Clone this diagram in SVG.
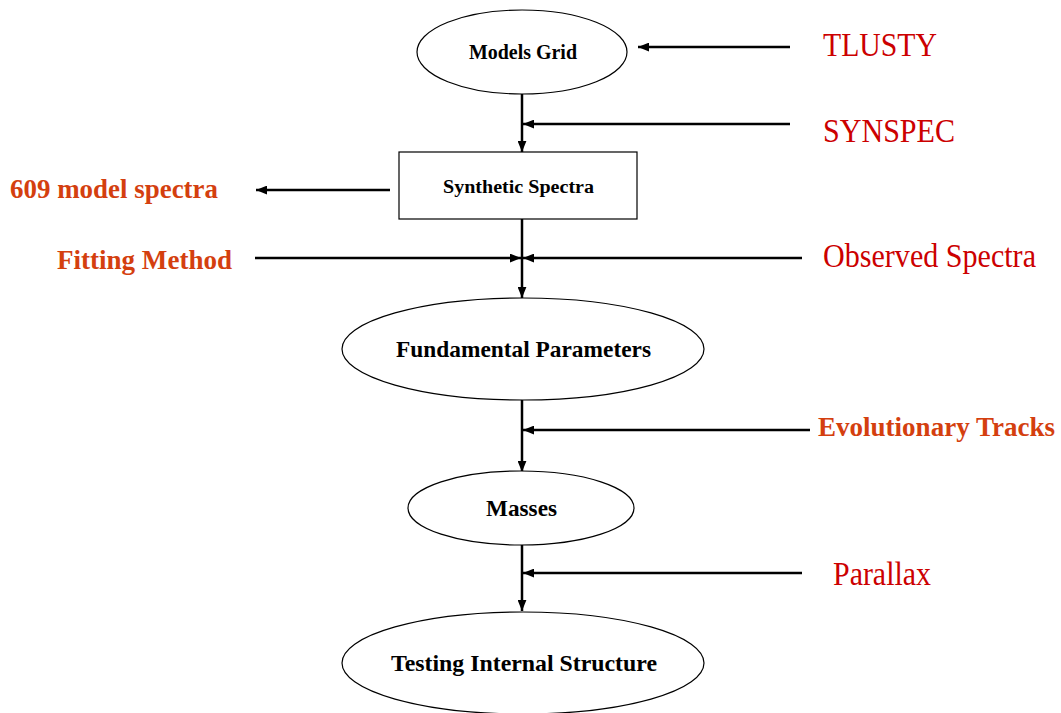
<svg xmlns="http://www.w3.org/2000/svg" width="1061" height="713" viewBox="0 0 1061 713">
<style>
.node{fill:#fff;stroke:#000;stroke-width:1.2}
.nt{font-family:'Liberation Serif','Times New Roman',Times,serif;font-weight:bold;fill:#000}
.red{font-family:'Liberation Serif','Times New Roman',Times,serif;fill:#cc0000;font-size:33px}
.org{font-family:'Liberation Serif','Times New Roman',Times,serif;font-weight:bold;fill:#d43f0f;font-size:28px}
.c{stroke:#000;stroke-width:2.5;fill:none}
</style>
<defs>
<marker id="ah" viewBox="0 0 10 8" refX="10" refY="4" markerWidth="4.4" markerHeight="3.6" orient="auto" markerUnits="strokeWidth">
<path d="M0,0 L10,4 L0,8 z" fill="#000"/>
</marker>
</defs>
<rect width="1061" height="713" fill="#fff"/>
<g id="connectors">
<path class="c" d="M522,94 V152" marker-end="url(#ah)"/>
<path class="c" d="M790,47 H638" marker-end="url(#ah)"/>
<path class="c" d="M790,124 H523" marker-end="url(#ah)"/>
<path class="c" d="M390,190 H256" marker-end="url(#ah)"/>
<path class="c" d="M522,219 V298" marker-end="url(#ah)"/>
<path class="c" d="M255,258 H521" marker-end="url(#ah)"/>
<path class="c" d="M802,258 H523" marker-end="url(#ah)"/>
<path class="c" d="M522,400 V472" marker-end="url(#ah)"/>
<path class="c" d="M810,430 H523" marker-end="url(#ah)"/>
<path class="c" d="M522,545 V611" marker-end="url(#ah)"/>
<path class="c" d="M802,573 H523" marker-end="url(#ah)"/>
</g>
<g id="models-grid">
<ellipse class="node" cx="522" cy="52" rx="105" ry="42"/>
<text class="nt" x="469" y="59" font-size="20" textLength="108" lengthAdjust="spacingAndGlyphs">Models Grid</text>
</g>
<g id="synthetic-spectra">
<rect class="node" x="399" y="152" width="238" height="67"/>
<text class="nt" x="443" y="193" font-size="18" textLength="151" lengthAdjust="spacingAndGlyphs">Synthetic Spectra</text>
</g>
<g id="fundamental-parameters">
<ellipse class="node" cx="523" cy="349" rx="181" ry="51"/>
<text class="nt" x="396" y="357" font-size="23" textLength="255" lengthAdjust="spacingAndGlyphs">Fundamental Parameters</text>
</g>
<g id="masses">
<ellipse class="node" cx="521" cy="508" rx="113" ry="37"/>
<text class="nt" x="486" y="516" font-size="23" textLength="71" lengthAdjust="spacingAndGlyphs">Masses</text>
</g>
<g id="testing-internal-structure">
<ellipse class="node" cx="523" cy="663" rx="181" ry="51"/>
<text class="nt" x="391" y="671" font-size="23" textLength="266" lengthAdjust="spacingAndGlyphs">Testing Internal Structure</text>
</g>
<g id="tlusty"><text class="red" x="823" y="56" textLength="114" lengthAdjust="spacingAndGlyphs">TLUSTY</text></g>
<g id="synspec"><text class="red" x="823" y="142" textLength="132" lengthAdjust="spacingAndGlyphs">SYNSPEC</text></g>
<g id="model-spectra"><text class="org" x="10" y="198" textLength="208" lengthAdjust="spacingAndGlyphs">609 model spectra</text></g>
<g id="fitting-method"><text class="org" x="57" y="269" textLength="175" lengthAdjust="spacingAndGlyphs">Fitting Method</text></g>
<g id="observed-spectra"><text class="red" x="823" y="267" textLength="213" lengthAdjust="spacingAndGlyphs">Observed Spectra</text></g>
<g id="evolutionary-tracks"><text class="org" x="818" y="436" textLength="237" lengthAdjust="spacingAndGlyphs">Evolutionary Tracks</text></g>
<g id="parallax"><text class="red" x="833" y="585" textLength="98" lengthAdjust="spacingAndGlyphs">Parallax</text></g>
</svg>
